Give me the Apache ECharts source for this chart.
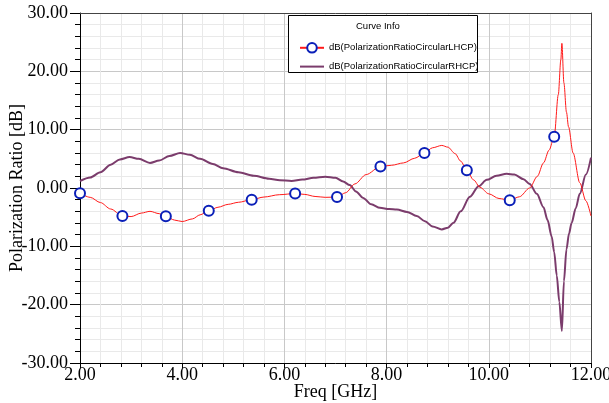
<!DOCTYPE html>
<html>
<head>
<meta charset="utf-8">
<script src="https://cdn.jsdelivr.net/npm/echarts@6/dist/echarts.min.js"></script>
<style>
  html, body { margin: 0; padding: 0; background: #fff; }
  #chart { width: 609px; height: 403px; }
</style>
</head>
<body>
<div id="chart"></div>
<script>
// 曲线数据
var lhcpFreq = [2.00, 2.20, 2.40, 2.60, 2.83, 3.00, 3.20, 3.37, 3.55, 3.68, 3.85, 4.00, 4.20, 4.35, 4.52, 4.70, 4.90, 5.10, 5.36, 5.60, 5.90, 6.21, 6.40, 6.60, 6.80, 7.03, 7.20, 7.38, 7.60, 7.88, 8.10, 8.33, 8.55, 8.74, 8.90, 9.08, 9.20, 9.34, 9.45, 9.57, 9.70, 9.83, 10.00, 10.20, 10.41, 10.60, 10.80, 10.95, 11.07, 11.18, 11.28, 11.36, 11.41, 11.43, 11.47, 11.52, 11.56, 11.65, 11.78, 11.90, 12.00];
var lhcpDb = [-0.9, -1.6, -2.5, -3.6, -4.8, -4.9, -4.3, -4.0, -4.4, -4.85, -5.5, -5.75, -5.3, -4.6, -3.9, -3.3, -2.8, -2.45, -2.0, -1.55, -1.15, -0.95, -1.1, -1.45, -1.6, -1.55, -0.8, 0.7, 2.3, 3.7, 3.9, 4.3, 5.1, 6.0, 6.9, 7.3, 7.0, 5.9, 4.6, 3.05, 1.4, 0.1, -1.0, -1.8, -2.1, -1.5, 0.0, 2.0, 4.3, 6.5, 8.8, 16.0, 22.0, 24.8, 18.0, 13.0, 10.5, 6.0, 0.9, -2.2, -4.8];
var markerFreq = [2.00, 2.83, 3.68, 4.52, 5.36, 6.21, 7.03, 7.88, 8.74, 9.57, 10.41, 11.28];

var rhcpFreq = [2.00, 2.20, 2.40, 2.60, 2.78, 2.97, 3.15, 3.37, 3.55, 3.75, 3.96, 4.15, 4.35, 4.60, 4.80, 5.10, 5.40, 5.70, 5.91, 6.14, 6.35, 6.57, 6.80, 7.00, 7.15, 7.28, 7.40, 7.54, 7.70, 7.87, 8.05, 8.20, 8.40, 8.59, 8.75, 8.90, 9.08, 9.20, 9.31, 9.45, 9.63, 9.80, 9.96, 10.15, 10.35, 10.50, 10.68, 10.80, 10.94, 11.07, 11.15, 11.23, 11.28, 11.33, 11.38, 11.43, 11.47, 11.52, 11.57, 11.62, 11.70, 11.78, 11.90, 12.00];
var rhcpDb = [1.2, 1.8, 2.7, 4.0, 4.9, 5.3, 5.0, 4.3, 4.7, 5.5, 6.0, 5.7, 5.0, 4.1, 3.4, 2.7, 2.1, 1.6, 1.35, 1.2, 1.45, 1.75, 1.95, 1.75, 1.1, 0.5, -0.6, -1.7, -2.8, -3.4, -3.6, -3.7, -4.1, -4.8, -5.7, -6.6, -7.1, -6.8, -5.95, -4.0, -1.5, 0.3, 1.4, 2.1, 2.45, 2.3, 1.5, 0.7, -1.0, -3.3, -5.5, -8.3, -11.0, -15.0, -19.5, -24.5, -16.0, -10.5, -7.8, -6.0, -3.5, -1.0, 2.3, 5.2];

var xTicks = [2, 12, 2];   // min, max, interval
var yTicks = [-30, 30, 10];

var lhcpName = "dB(PolarizationRatioCircularLHCP)";
var rhcpName = "dB(PolarizationRatioCircularRHCP)";

var lhcpData = lhcpFreq.map(function (f, i) {
  var isMarker = markerFreq.indexOf(f) >= 0;
  return isMarker ? { value: [f, lhcpDb[i]] } : { value: [f, lhcpDb[i]], symbol: "none" };
});
var rhcpData = rhcpFreq.map(function (f, i) { return [f, rhcpDb[i]]; });

var serif = "'Liberation Serif', 'DejaVu Serif', serif";
var sans = "'Liberation Sans', Arial, sans-serif";

var fmt2 = function (v) { return v.toFixed(2); };

// 上边和右边的框线用空轴画
var frameX = {
  type: "value", position: "top",
  min: xTicks[0], max: xTicks[1], interval: xTicks[2],
  axisLine: { show: true, onZero: false, lineStyle: { color: "#444", width: 1 } },
  axisTick: { show: false }, axisLabel: { show: false }, splitLine: { show: false }
};
var frameY = {
  type: "value", position: "right",
  min: yTicks[0], max: yTicks[1], interval: yTicks[2],
  axisLine: { show: true, onZero: false, lineStyle: { color: "#444", width: 1 } },
  axisTick: { show: false }, axisLabel: { show: false }, splitLine: { show: false }
};

var myChart = echarts.init(document.getElementById("chart"));
myChart.setOption({
  animation: false,
  backgroundColor: "#fff",
  grid: {
    left: 80, right: 18, top: 13, bottom: 40,
    outerBoundsMode: "none",
    containLabel: false
  },
  xAxis: [{
    type: "value",
    min: xTicks[0], max: xTicks[1], interval: xTicks[2],
    name: "Freq [GHz]",
    nameLocation: "middle",
    nameGap: 20,
    nameMoveOverlap: false,
    nameTextStyle: { fontFamily: serif, fontSize: 18, color: "#000" },
    axisLine: { onZero: false, lineStyle: { color: "#000", width: 1 } },
    axisTick: { length: 5, lineStyle: { color: "#000" } },
    minorTick: { show: true, splitNumber: 5, length: 4, lineStyle: { color: "#000" } },
    axisLabel: { fontFamily: serif, fontSize: 18, color: "#000", margin: 3, formatter: fmt2 },
    splitLine: { show: true, lineStyle: { color: "#c8c8c8", width: 1 } },
    minorSplitLine: { show: true, lineStyle: { color: "#e9e9e9", width: 1 } }
  }, frameX],
  yAxis: [{
    type: "value",
    min: yTicks[0], max: yTicks[1], interval: yTicks[2],
    name: "Polarization Ratio [dB]",
    nameLocation: "middle",
    nameGap: 54,
    nameMoveOverlap: false,
    nameTextStyle: { fontFamily: serif, fontSize: 18, color: "#000" },
    axisLine: { show: true, onZero: false, lineStyle: { color: "#000", width: 1 } },
    axisTick: { show: true, length: 10, lineStyle: { color: "#000" } },
    minorTick: { show: true, splitNumber: 5, length: 5, lineStyle: { color: "#000" } },
    axisLabel: { fontFamily: serif, fontSize: 18, color: "#000", margin: 12, formatter: fmt2 },
    splitLine: { show: true, lineStyle: { color: "#c8c8c8", width: 1 } },
    minorSplitLine: { show: true, lineStyle: { color: "#e9e9e9", width: 1 } }
  }, frameY],
  graphic: [
    {
      type: "rect",
      left: 288, top: 15,
      shape: { width: 189, height: 57 },
      style: { fill: "#fff", stroke: "#000", lineWidth: 1 },
      z: 90
    },
    {
      type: "text",
      left: 356, top: 21,
      style: { text: "Curve Info", fill: "#000", font: "9.5px " + sans },
      z: 91
    }
  ],
  legend: {
    orient: "vertical",
    left: 294, top: 37,
    itemWidth: 24, itemHeight: 12, itemGap: 8,
    z: 95,
    textStyle: { fontFamily: sans, fontSize: 9.5, color: "#000" },
    data: [
      { name: lhcpName },
      { name: rhcpName, itemStyle: { opacity: 0 } }
    ]
  },
  series: [
    {
      name: rhcpName,
      type: "line",
      data: rhcpData,
      symbol: "none",
      smooth: 0.3,
      smoothMonotone: "x",
      lineStyle: { color: "#7b3c6c", width: 2 },
      itemStyle: { color: "#7b3c6c" },
      z: 3
    },
    {
      name: lhcpName,
      type: "line",
      data: lhcpData,
      symbol: "emptyCircle",
      symbolSize: 10,
      showSymbol: true,
      showAllSymbol: true,
      smooth: 0.3,
      smoothMonotone: "x",
      lineStyle: { color: "#ff1a1a", width: 1 },
      itemStyle: { color: "#0a1fb8", borderWidth: 2.2 },
      z: 4
    }
  ]
});
</script>
</body>
</html>
